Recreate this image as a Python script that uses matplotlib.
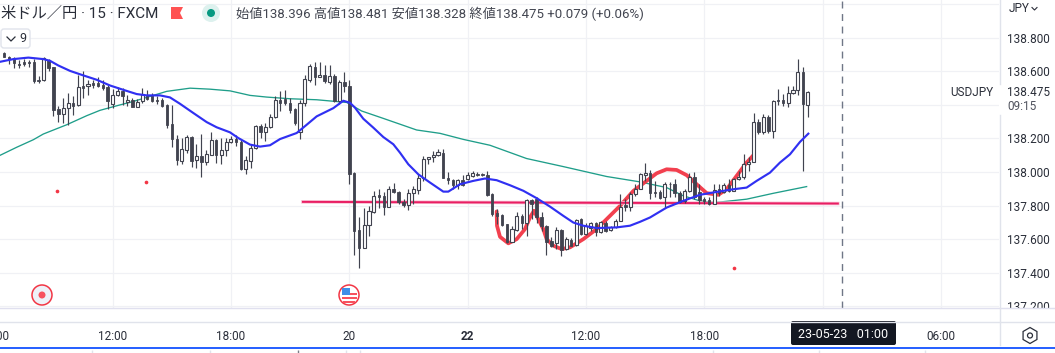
import numpy as np
import matplotlib
matplotlib.use("Agg")
import matplotlib.pyplot as plt
from matplotlib.patches import Circle, FancyBboxPatch, Polygon, Rectangle, RegularPolygon

opens = [138.711,138.687,138.677,138.644,138.652,138.656,138.656,138.549,138.545,138.668,
         138.624,138.375,138.347,138.380,138.410,138.398,138.513,138.509,138.529,138.529,
         138.519,138.505,138.406,138.456,138.485,138.414,138.426,138.386,138.420,138.460,
         138.460,138.430,138.426,138.400,138.288,138.196,138.068,138.133,138.206,138.070,
         138.097,138.058,138.103,138.192,138.101,138.129,138.177,138.196,138.179,138.020,
         138.068,138.143,138.276,138.236,138.268,138.327,138.430,138.434,138.410,138.375,
         138.236,138.410,138.549,138.628,138.565,138.578,138.537,138.572,138.420,138.535,
         138.512,137.996,137.654,137.547,137.686,137.763,137.862,137.854,137.794,137.897,
         137.882,137.822,137.806,137.872,137.893,137.963,138.080,138.087,138.103,138.115,
         137.967,137.953,137.923,137.953,137.961,137.977,137.990,137.986,137.983,137.868,
         137.755,137.745,137.690,137.585,137.656,137.735,137.699,137.832,137.838,137.729,
         137.680,137.587,137.575,137.654,137.541,137.596,137.567,137.719,137.630,137.666,
         137.699,137.640,137.699,137.654,137.670,137.709,137.802,137.794,137.866,137.901,
         137.983,137.996,137.878,137.878,137.848,137.931,137.931,137.874,137.828,137.887,
         137.973,137.878,137.838,137.832,137.812,137.901,137.878,137.921,137.887,137.961,
         137.971,138.050,138.062,138.299,138.238,138.329,138.244,138.426,138.426,138.410,
         138.472,138.487,138.596,138.396]
highs = [138.717,138.691,138.683,138.668,138.672,138.668,138.672,138.573,138.683,138.672,
         138.628,138.394,138.440,138.470,138.450,138.578,138.600,138.549,138.549,138.565,
         138.549,138.519,138.493,138.505,138.499,138.460,138.440,138.434,138.499,138.489,
         138.470,138.454,138.440,138.406,138.400,138.222,138.202,138.222,138.216,138.167,
         138.226,138.133,138.238,138.196,138.202,138.202,138.212,138.222,138.192,138.093,
         138.167,138.281,138.285,138.291,138.345,138.450,138.480,138.489,138.440,138.380,
         138.430,138.578,138.644,138.656,138.656,138.638,138.638,138.584,138.549,138.594,
         138.548,138.000,137.729,137.788,137.798,137.884,137.897,137.878,137.917,137.937,
         137.887,137.838,137.897,137.917,137.990,138.095,138.091,138.125,138.139,138.139,
         138.002,137.961,137.961,137.981,138.000,138.006,138.000,137.992,138.006,137.874,
         137.779,137.749,137.693,137.676,137.759,137.749,137.838,137.838,137.848,137.759,
         137.684,137.610,137.674,137.660,137.610,137.604,137.719,137.725,137.699,137.703,
         137.703,137.709,137.709,137.680,137.719,137.868,137.838,137.878,137.927,137.992,
         138.052,138.012,137.947,137.893,137.941,137.943,137.961,137.887,137.897,137.992,
         138.002,137.927,137.848,137.848,137.927,137.927,137.937,137.961,137.967,138.006,
         138.105,138.091,138.353,138.313,138.343,138.337,138.428,138.495,138.466,138.511,
         138.511,138.670,138.626,138.481]
lows = [138.683,138.644,138.618,138.618,138.632,138.628,138.529,138.529,138.543,138.604,
        138.331,138.295,138.291,138.281,138.341,138.394,138.440,138.460,138.499,138.505,
        138.489,138.375,138.380,138.450,138.400,138.390,138.384,138.384,138.410,138.430,
        138.414,138.406,138.386,138.262,138.147,138.044,138.050,138.113,138.030,138.024,
        137.969,138.040,138.099,138.054,138.050,138.093,138.173,138.153,138.010,137.990,
        138.024,138.139,138.202,138.182,138.262,138.319,138.361,138.400,138.351,138.282,
        138.196,138.394,138.533,138.515,138.563,138.529,138.523,138.414,138.406,138.479,
        137.927,137.505,137.428,137.547,137.620,137.755,137.788,137.745,137.792,137.874,
        137.812,137.794,137.773,137.808,137.868,137.947,138.046,138.060,138.095,137.963,
        137.927,137.897,137.897,137.917,137.953,137.973,137.977,137.977,137.858,137.739,
        137.690,137.680,137.575,137.581,137.650,137.660,137.620,137.719,137.699,137.650,
        137.507,137.551,137.541,137.501,137.537,137.557,137.561,137.626,137.626,137.650,
        137.620,137.636,137.644,137.650,137.666,137.707,137.769,137.769,137.858,137.897,
        137.947,137.838,137.848,137.838,137.785,137.848,137.852,137.814,137.814,137.881,
        137.838,137.808,137.808,137.802,137.808,137.858,137.872,137.881,137.884,137.953,
        137.957,138.006,138.060,138.224,138.224,138.234,138.200,138.398,138.392,138.386,
        138.462,138.458,138.006,138.328]
closes = [138.687,138.672,138.648,138.634,138.642,138.648,138.539,138.541,138.676,138.618,
          138.371,138.347,138.380,138.410,138.394,138.505,138.501,138.523,138.517,138.513,
          138.499,138.420,138.460,138.485,138.450,138.430,138.386,138.418,138.466,138.434,
          138.420,138.422,138.390,138.282,138.196,138.070,138.139,138.206,138.068,138.097,
          138.058,138.107,138.192,138.099,138.133,138.177,138.196,138.177,138.020,138.070,
          138.143,138.276,138.236,138.268,138.327,138.430,138.410,138.410,138.371,138.291,
          138.410,138.553,138.632,138.563,138.578,138.539,138.572,138.420,138.537,138.509,
          137.986,137.650,137.547,137.686,137.765,137.858,137.852,137.794,137.897,137.878,
          137.822,137.804,137.874,137.897,137.967,138.080,138.091,138.103,138.119,137.967,
          137.953,137.921,137.953,137.921,137.981,137.993,137.983,137.983,137.864,137.749,
          137.739,137.686,137.581,137.660,137.735,137.699,137.832,137.812,137.729,137.680,
          137.581,137.561,137.654,137.535,137.600,137.561,137.715,137.630,137.676,137.699,
          137.640,137.703,137.650,137.670,137.711,137.792,137.794,137.868,137.901,137.986,
          137.996,137.874,137.872,137.844,137.931,137.927,137.872,137.822,137.887,137.973,
          137.848,137.834,137.828,137.808,137.893,137.874,137.921,137.887,137.961,137.973,
          138.050,138.060,138.299,138.238,138.329,138.244,138.424,138.420,138.410,138.472,
          138.487,138.596,138.402,138.475]

ma_fast_x = [-0.85,1.85,4.9,7.94,9.29,10.98,13.35,16.05,18.76,21.46,24.17,26.87,28.9,31.6,33.63,35.66,
             38.37,41.07,43.1,45.8,47.49,49.86,51.89,53.92,55.95,59.33,61.35,63.38,66.76,68.79,70.14,
             71.15,72.84,74.87,76.9,78.93,80.28,81.97,84.0,86.37,89.07,90.09,92.45,95.16,97.52,99.89,
             102.6,105.3,108.0,110.7,113.4,115.44,117.47,120.17,124.23,126.93,128.96,131.0,134.37,
             137.75,141.13,143.84,147.9,150.6,152.63,155.33,157.36,159.39,161.42,163.11]
ma_fast_y = [138.656,138.672,138.681,138.672,138.662,138.634,138.602,138.575,138.549,138.515,138.489,
             138.464,138.456,138.456,138.444,138.406,138.351,138.297,138.266,138.236,138.202,138.163,
             138.151,138.159,138.196,138.232,138.281,138.331,138.380,138.424,138.412,138.383,138.317,
             138.264,138.208,138.165,138.115,138.046,137.986,137.937,137.883,137.883,137.927,137.947,
             137.961,137.951,137.921,137.888,137.844,137.794,137.739,137.699,137.680,137.666,137.670,
             137.680,137.703,137.729,137.788,137.828,137.864,137.878,137.897,137.907,137.947,137.996,
             138.056,138.105,138.179,138.228]

ma_slow_x = [-0.85,2.53,5.91,7.94,12.67,16.73,19.43,22.81,26.2,29.58,32.96,37.69,41.75,45.8,49.86,53.24,
             57.97,63.38,69.47,72.51,76.9,83.66,88.4,93.13,98.54,105.97,113.41,122.2,128.96,134.37,
             137.75,141.13,144.18,150.6,156.01,162.77]
ma_slow_y = [138.099,138.147,138.192,138.226,138.281,138.335,138.367,138.394,138.420,138.450,138.480,
             138.499,138.493,138.483,138.456,138.446,138.436,138.430,138.414,138.363,138.319,138.250,
             138.230,138.194,138.159,138.080,138.032,137.973,137.941,137.907,137.858,137.828,137.818,
             137.838,137.873,137.913]

brush_x = [99.89,99.96,100.57,102.26,103.95,105.64,106.65,107.46,108.34,109.35,110.03,111.38,113.07,
           114.76,117.47,120.17,122.2,124.91,127.61,130.32,132.34,134.37,136.4,138.43,140.46,142.49,
           144.85,146.54,148.57,150.6,151.95]
brush_y = [137.765,137.680,137.614,137.575,137.600,137.660,137.729,137.769,137.719,137.660,137.600,
           137.561,137.541,137.551,137.600,137.660,137.719,137.798,137.887,137.947,137.992,138.016,
           138.012,137.981,137.927,137.874,137.864,137.897,137.977,138.056,138.099]

level_x = [60.6, 169.1]
level_y = [137.822, 137.812]
dots_x = [10.71, 28.76, 148.03]
dots_y = [137.887, 137.940, 137.429]

x_ticks = [22, 46, 70, 94, 118, 142, 166, 190]
x_labels = ["12:00", "18:00", "20", "22", "12:00", "18:00", "", "06:00"]
y_ticks = [139.0, 138.8, 138.6, 138.4, 138.2, 138.0, 137.8, 137.6, 137.4, 137.2]
y_labels = ["", "138.800", "138.600", "", "138.200", "138.000", "137.800", "137.600", "137.400", "137.200"]

DARK = "#41434f"
TEXT = "#2a2e39"
plt.rcParams["font.family"] = ["Roboto", "Noto Sans CJK JP", "DejaVu Sans"]

fig = plt.figure(figsize=(10.55, 3.53), dpi=100)
ax = fig.add_axes([0, 45 / 353, 999.3 / 1055, 308 / 353])
for s in ax.spines.values():
    s.set_visible(False)
ax.set_xticks(x_ticks)
ax.set_xticklabels(x_labels, fontsize=8.5, color=TEXT)
ax.get_xticklabels()[3].set_fontweight("bold")
ax.yaxis.tick_right()
ax.set_yticks(y_ticks)
ax.set_yticklabels(y_labels, fontsize=8.5, color=TEXT)
ax.tick_params(axis="x", length=0, pad=15.7)
ax.tick_params(axis="y", length=0, pad=5.5)
ax.grid(color="#f0f1f5", lw=0.9)
ax.set_axisbelow(True)

o = np.array(opens)
h = np.array(highs)
l = np.array(lows)
c = np.array(closes)
x = np.arange(len(o))
up = c >= o

ax.axvline(170, color="#6f7686", lw=1, dashes=(5, 4), zorder=1)
ax.plot(ma_slow_x, ma_slow_y, color="#1f9e8a", lw=0.95, zorder=2)
ax.plot(brush_x, brush_y, color="#f23645", lw=2.7, alpha=0.95, solid_capstyle="round", zorder=2.2)
ax.plot(level_x, level_y, color="#f8bbd0", lw=2.5, zorder=2.3)
ax.plot(level_x, level_y, color="#e91e63", lw=1.4, zorder=2.4)
ax.vlines(x, l, h, color=DARK, lw=0.85, zorder=3)
ax.bar(x[up], (c - o)[up], bottom=o[up], width=0.62, facecolor="white", edgecolor=DARK, lw=0.8, zorder=3.2)
ax.bar(x[~up], (o - c)[~up], bottom=c[~up], width=0.5, facecolor=DARK, edgecolor=DARK, lw=0.6, zorder=3.2)
ax.plot(ma_fast_x, ma_fast_y, color="#3030f2", lw=1.55, zorder=4)
ax.scatter(dots_x, dots_y, s=7, color="#f23645", lw=0, zorder=4)
ax.set_xlim(-0.85, 201.85)
ax.set_ylim(137.190, 139.024)

# everything round the chart, in pixels of the picture
ui = fig.add_axes([0, 0, 1, 1])
ui.set_xlim(0, 1055)
ui.set_ylim(353, 0)
ui.axis("off")
ui.patch.set_alpha(0)

ui.add_patch(Rectangle((999.5, 308), 56, 13, fc="white", ec="none"))
ui.plot([0, 1055], [308, 308], color="#e0e0ef", lw=1)
ui.plot([0, 1055], [321.5, 321.5], color="#e0e3eb", lw=1)
ui.plot([999.5, 999.5], [0, 84], color="#e0e3eb", lw=1)
ui.plot([999.5, 999.5], [115, 345], color="#e0e3eb", lw=1)
ui.add_patch(Rectangle((0, 346.8), 1055, 2.2, fc="#2962ff", ec="none"))
ui.vlines([92, 210, 346, 360, 713, 819, 925], 350, 353, color="#e0e3eb", lw=1)
ui.vlines([298], 350, 353, color="#787b86", lw=1)

# the first time label runs off the left edge in the reference too
ui.text(-5.6, 336, "06:00", fontsize=8.5, color=TEXT, ha="center", va="center")

ui.text(1, 13.5, "米ドル／円 · 15 · FXCM", fontsize=11, color=TEXT, va="center")
ui.add_patch(Polygon([(171, 7), (183, 7), (180, 13), (183, 19), (171, 19)], fc="#ff5252", ec="none"))
ui.add_patch(Circle((211, 13), 9, fc="#ddf1ee", ec="none"))
ui.add_patch(Circle((211, 13), 4, fc="#089981", ec="none"))
ui.text(236, 13.5, "始値138.396 高値138.481 安値138.328 終値138.475 +0.079 (+0.06%)", fontsize=9.5,
        color="#434651", va="center")
ui.add_patch(FancyBboxPatch((1, 29), 29, 19, boxstyle="round,pad=0,rounding_size=3", fc="white",
                            ec="#e0e3eb", lw=1))
ui.plot([7, 11, 15], [37, 41, 37], color=TEXT, lw=0.9)
ui.text(23, 38.5, "9", fontsize=9, color=TEXT, ha="center", va="center")

ui.text(1009, 8.5, "JPY", fontsize=8.5, color=TEXT, va="center")
ui.plot([1032, 1034.5, 1037], [7.5, 10, 7.5], color=TEXT, lw=0.8)
ui.text(993, 92.5, "USDJPY", fontsize=8.5, color=TEXT, ha="right", va="center")
ui.text(1007, 92.5, "138.475", fontsize=8.5, color=TEXT, va="center")
ui.text(1007, 107, "09:15", fontsize=8.5, color="#50535e", va="center")

ui.add_patch(Circle((42, 295), 10, fc="#eef1f8", ec="#f23645", lw=1.1))
ui.add_patch(Circle((42, 295), 3.5, fc="#f7525f", ec="none"))
ui.add_patch(Circle((349, 295), 10, fc="white", ec="#f23645", lw=1.1))
ui.add_patch(Rectangle((342, 293), 15, 2, fc="#f7525f", ec="none"))
ui.add_patch(Rectangle((342, 297), 15, 2, fc="#f7525f", ec="none"))
ui.add_patch(Rectangle((343, 301), 12, 2, fc="#f7525f", ec="none"))
ui.add_patch(Rectangle((342, 288), 8, 7, fc="#3f8fe8", ec="none"))

ui.add_patch(FancyBboxPatch((791, 321), 105, 24, boxstyle="round,pad=0,rounding_size=2", fc="#131722", ec="none"))
ui.text(843.5, 335, "23-05-23   01:00", fontsize=9, color="white", ha="center", va="center")
ui.add_patch(RegularPolygon((1030, 335.5), 6, radius=8, fc="white", ec="#2a2e39", lw=0.9))
ui.add_patch(Circle((1030, 335.5), 2.5, fc="white", ec="#2a2e39", lw=0.9))

fig.savefig("out.png", dpi=100)
